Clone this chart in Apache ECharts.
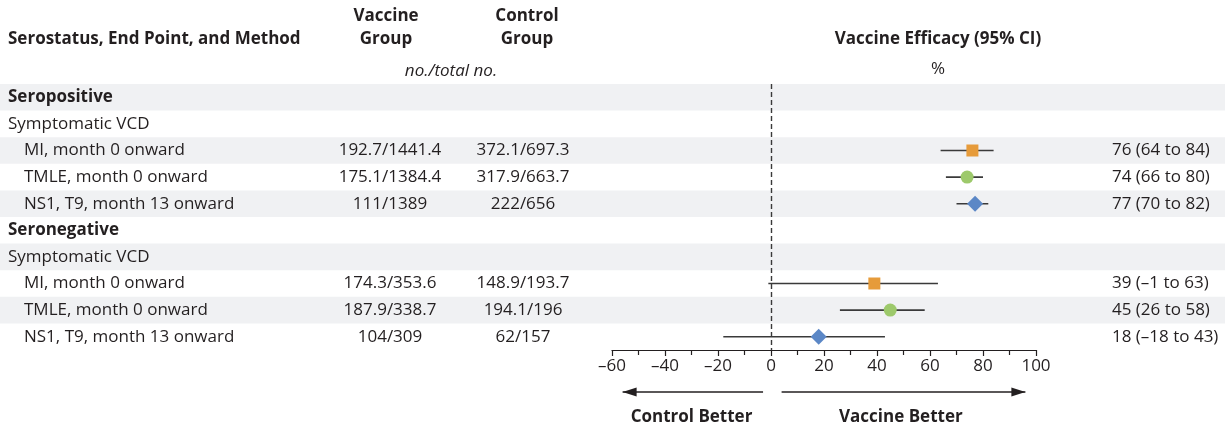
<!DOCTYPE html>
<html>
<head>
<meta charset="utf-8">
<script src="https://cdn.jsdelivr.net/npm/echarts@6/dist/echarts.min.js"></script>
<style>
  html, body { margin: 0; padding: 0; background: #fff; }
  #chart { width: 1225px; height: 429px; }
</style>
</head>
<body>
<div id="chart"></div>
<script>
// Rows of the forest table, top to bottom
const rowLabels = [
  'Seropositive', 'Symptomatic VCD',
  'MI, month 0 onward', 'TMLE, month 0 onward', 'NS1, T9, month 13 onward',
  'Seronegative', 'Symptomatic VCD',
  'MI, month 0 onward', 'TMLE, month 0 onward', 'NS1, T9, month 13 onward'
];
// 0 = group heading, 1 = end point, 2 = method
const rowLevel = [0, 1, 2, 2, 2, 0, 1, 2, 2, 2];
const vaccineGroup = ['', '', '192.7/1441.4', '175.1/1384.4', '111/1389', '', '', '174.3/353.6', '187.9/338.7', '104/309'];
const controlGroup = ['', '', '372.1/697.3', '317.9/663.7', '222/656', '', '', '148.9/193.7', '194.1/196', '62/157'];
// Vaccine efficacy point estimates and 95% CI (percent)
const efficacy = [null, null, 76, 74, 77, null, null, 39, 45, 18];
const ciLow    = [null, null, 64, 66, 70, null, null, -1, 26, -18];
const ciHigh   = [null, null, 84, 80, 82, null, null, 63, 58, 43];
const method   = [null, null, 'MI', 'TMLE', 'NS1', null, null, 'MI', 'TMLE', 'NS1'];
const xTicks = { min: -60, max: 100, interval: 20 };

const FONT = 'Open Sans';
const FS = 17;
const TEXT = '#231f20';
const methodStyle = {
  MI:   { symbol: 'rect',    size: 12, color: '#e69b3a' },
  TMLE: { symbol: 'circle',  size: 13, color: '#9dc96b' },
  NS1:  { symbol: 'diamond', size: 16, color: '#5b87c6' }
};

const rowIds = rowLabels.map((_, i) => 'r' + i);
const dash = s => String(s).replace(/-/g, '\u2013');
const ciText = rowIds.map((_, i) => efficacy[i] == null ? '' :
  dash(`${efficacy[i]} (${ciLow[i]} to ${ciHigh[i]})`));

const GRID_TOP = 84, GRID_BOTTOM = 79, PLOT_LEFT = 612, PLOT_RIGHT = 189;

const textAxis = (offset, position, data, align, extra) => Object.assign({
  type: 'category', gridIndex: 0, data: data, inverse: true, position: position, offset: offset,
  axisLine: { show: false }, axisTick: { show: false }, splitLine: { show: false },
  axisLabel: { interval: 0, margin: 0, align: align, color: TEXT, fontFamily: FONT, fontSize: FS }
}, extra || {});

const methodSeries = Object.keys(methodStyle).map(m => ({
  name: m, type: 'scatter', xAxisIndex: 0, yAxisIndex: 0, z: 5,
  symbol: methodStyle[m].symbol, symbolSize: methodStyle[m].size,
  itemStyle: { color: methodStyle[m].color, opacity: 1 },
  data: rowIds.map((id, i) => method[i] === m ? [efficacy[i], i] : null).filter(d => d)
}));

const option = {
  animation: false,
  grid: [
    { left: PLOT_LEFT, right: PLOT_RIGHT, top: GRID_TOP, bottom: GRID_BOTTOM },
    { left: 0, right: 0, top: GRID_TOP, bottom: GRID_BOTTOM }
  ],
  xAxis: [
    {
      type: 'value', gridIndex: 0, min: xTicks.min, max: xTicks.max, interval: xTicks.interval,
      position: 'bottom',
      axisLine: { show: true, onZero: false, lineStyle: { color: '#231f20', width: 1.2 } },
      axisTick: { show: true, inside: false, length: 6, lineStyle: { color: '#231f20', width: 1.2 } },
      minorTick: { show: true, splitNumber: 2, length: 5, lineStyle: { color: '#231f20', width: 1.2 } },
      splitLine: { show: false },
      axisLabel: { margin: 8, color: TEXT, fontFamily: FONT, fontSize: FS, formatter: v => dash(v) }
    },
    { type: 'value', gridIndex: 1, min: 0, max: 1, show: false }
  ],
  yAxis: [
    { type: 'category', gridIndex: 0, data: rowIds, inverse: true, show: false },
    // row labels
    textAxis(PLOT_LEFT - 8, 'left', rowLabels.map((t, i) =>
      rowLevel[i] === 0 ? `{h|${t}}` : rowLevel[i] === 2 ? `{m|${t}}` : t), 'left',
      { axisLabel: { interval: 0, margin: 0, align: 'left', color: TEXT, fontFamily: FONT, fontSize: FS,
        formatter: v => v,
        rich: { h: { fontWeight: 'bold', fontFamily: FONT, fontSize: FS, color: TEXT },
                m: { padding: [0, 0, 0, 16], fontFamily: FONT, fontSize: FS, color: TEXT } } } }),
    textAxis(PLOT_LEFT - 390, 'left', vaccineGroup, 'center'),
    textAxis(PLOT_LEFT - 523, 'left', controlGroup, 'center'),
    textAxis(1112 - (1225 - PLOT_RIGHT), 'right', ciText, 'left'),
    // alternating row shading across the full width
    {
      type: 'category', gridIndex: 1, data: rowIds, inverse: true,
      axisLine: { show: false }, axisTick: { show: false }, axisLabel: { show: false },
      splitLine: { show: false },
      splitArea: { show: true, interval: 0, areaStyle: { color: ['#f0f1f3', 'rgba(255,255,255,0)'] } }
    }
  ],
  series: [
    {
      type: 'custom', xAxisIndex: 0, yAxisIndex: 0, z: 3,
      data: rowIds.map((id, i) => efficacy[i] == null ? null : [ciLow[i], ciHigh[i], i]).filter(d => d),
      renderItem: (params, api) => {
        const a = api.coord([api.value(0), api.value(2)]);
        const b = api.coord([api.value(1), api.value(2)]);
        return { type: 'line', shape: { x1: a[0], y1: a[1], x2: b[0], y2: b[1] },
                 style: { stroke: '#3a3a3a', lineWidth: 1.6 } };
      },
      markLine: {
        silent: true, symbol: 'none', label: { show: false },
        lineStyle: { color: '#3a3a3a', type: [5, 3], width: 1.4 },
        data: [{ xAxis: 0 }]
      }
    },
    ...methodSeries
  ]
};

const chart = echarts.init(document.getElementById('chart'), null, { renderer: 'canvas' });
chart.setOption(option);

// Header texts and direction arrows beneath the efficacy axis
const px = v => chart.convertToPixel({ xAxisIndex: 0 }, v);
const txt = (x, y, text, font, align) => ({
  type: 'text', x: x, y: y,
  style: { text: text, fill: TEXT, font: font || `${FS}px ${FONT}`, align: align || 'center', verticalAlign: 'middle' }
});
const bold = `bold ${FS}px ${FONT}`;
const arrowY = 392;
const arrow = (from, to) => [
  { type: 'line', shape: { x1: px(from), y1: arrowY, x2: px(to), y2: arrowY },
    style: { stroke: '#231f20', lineWidth: 1.4 } },
  { type: 'polygon', shape: { points: [
      [px(to), arrowY],
      [px(to) + (to < from ? 14 : -14), arrowY - 4.5],
      [px(to) + (to < from ? 14 : -14), arrowY + 4.5]] },
    style: { fill: '#231f20' } }
];
chart.setOption({
  graphic: [
    txt(8, 39, 'Serostatus, End Point, and Method', bold, 'left'),
    txt(386, 16, 'Vaccine', bold),
    txt(386, 39, 'Group', bold),
    txt(527, 16, 'Control', bold),
    txt(527, 39, 'Group', bold),
    txt(451, 71, 'no./total no.', `italic ${FS}px ${FONT}`),
    txt(938, 39, 'Vaccine Efficacy (95% CI)', bold),
    txt(938, 69, '%'),
    ...arrow(-3, -56),
    ...arrow(4, 96),
    txt(px(-30), 417, 'Control Better', bold),
    txt(px(49), 417, 'Vaccine Better', bold)
  ]
});
</script>
</body>
</html>
